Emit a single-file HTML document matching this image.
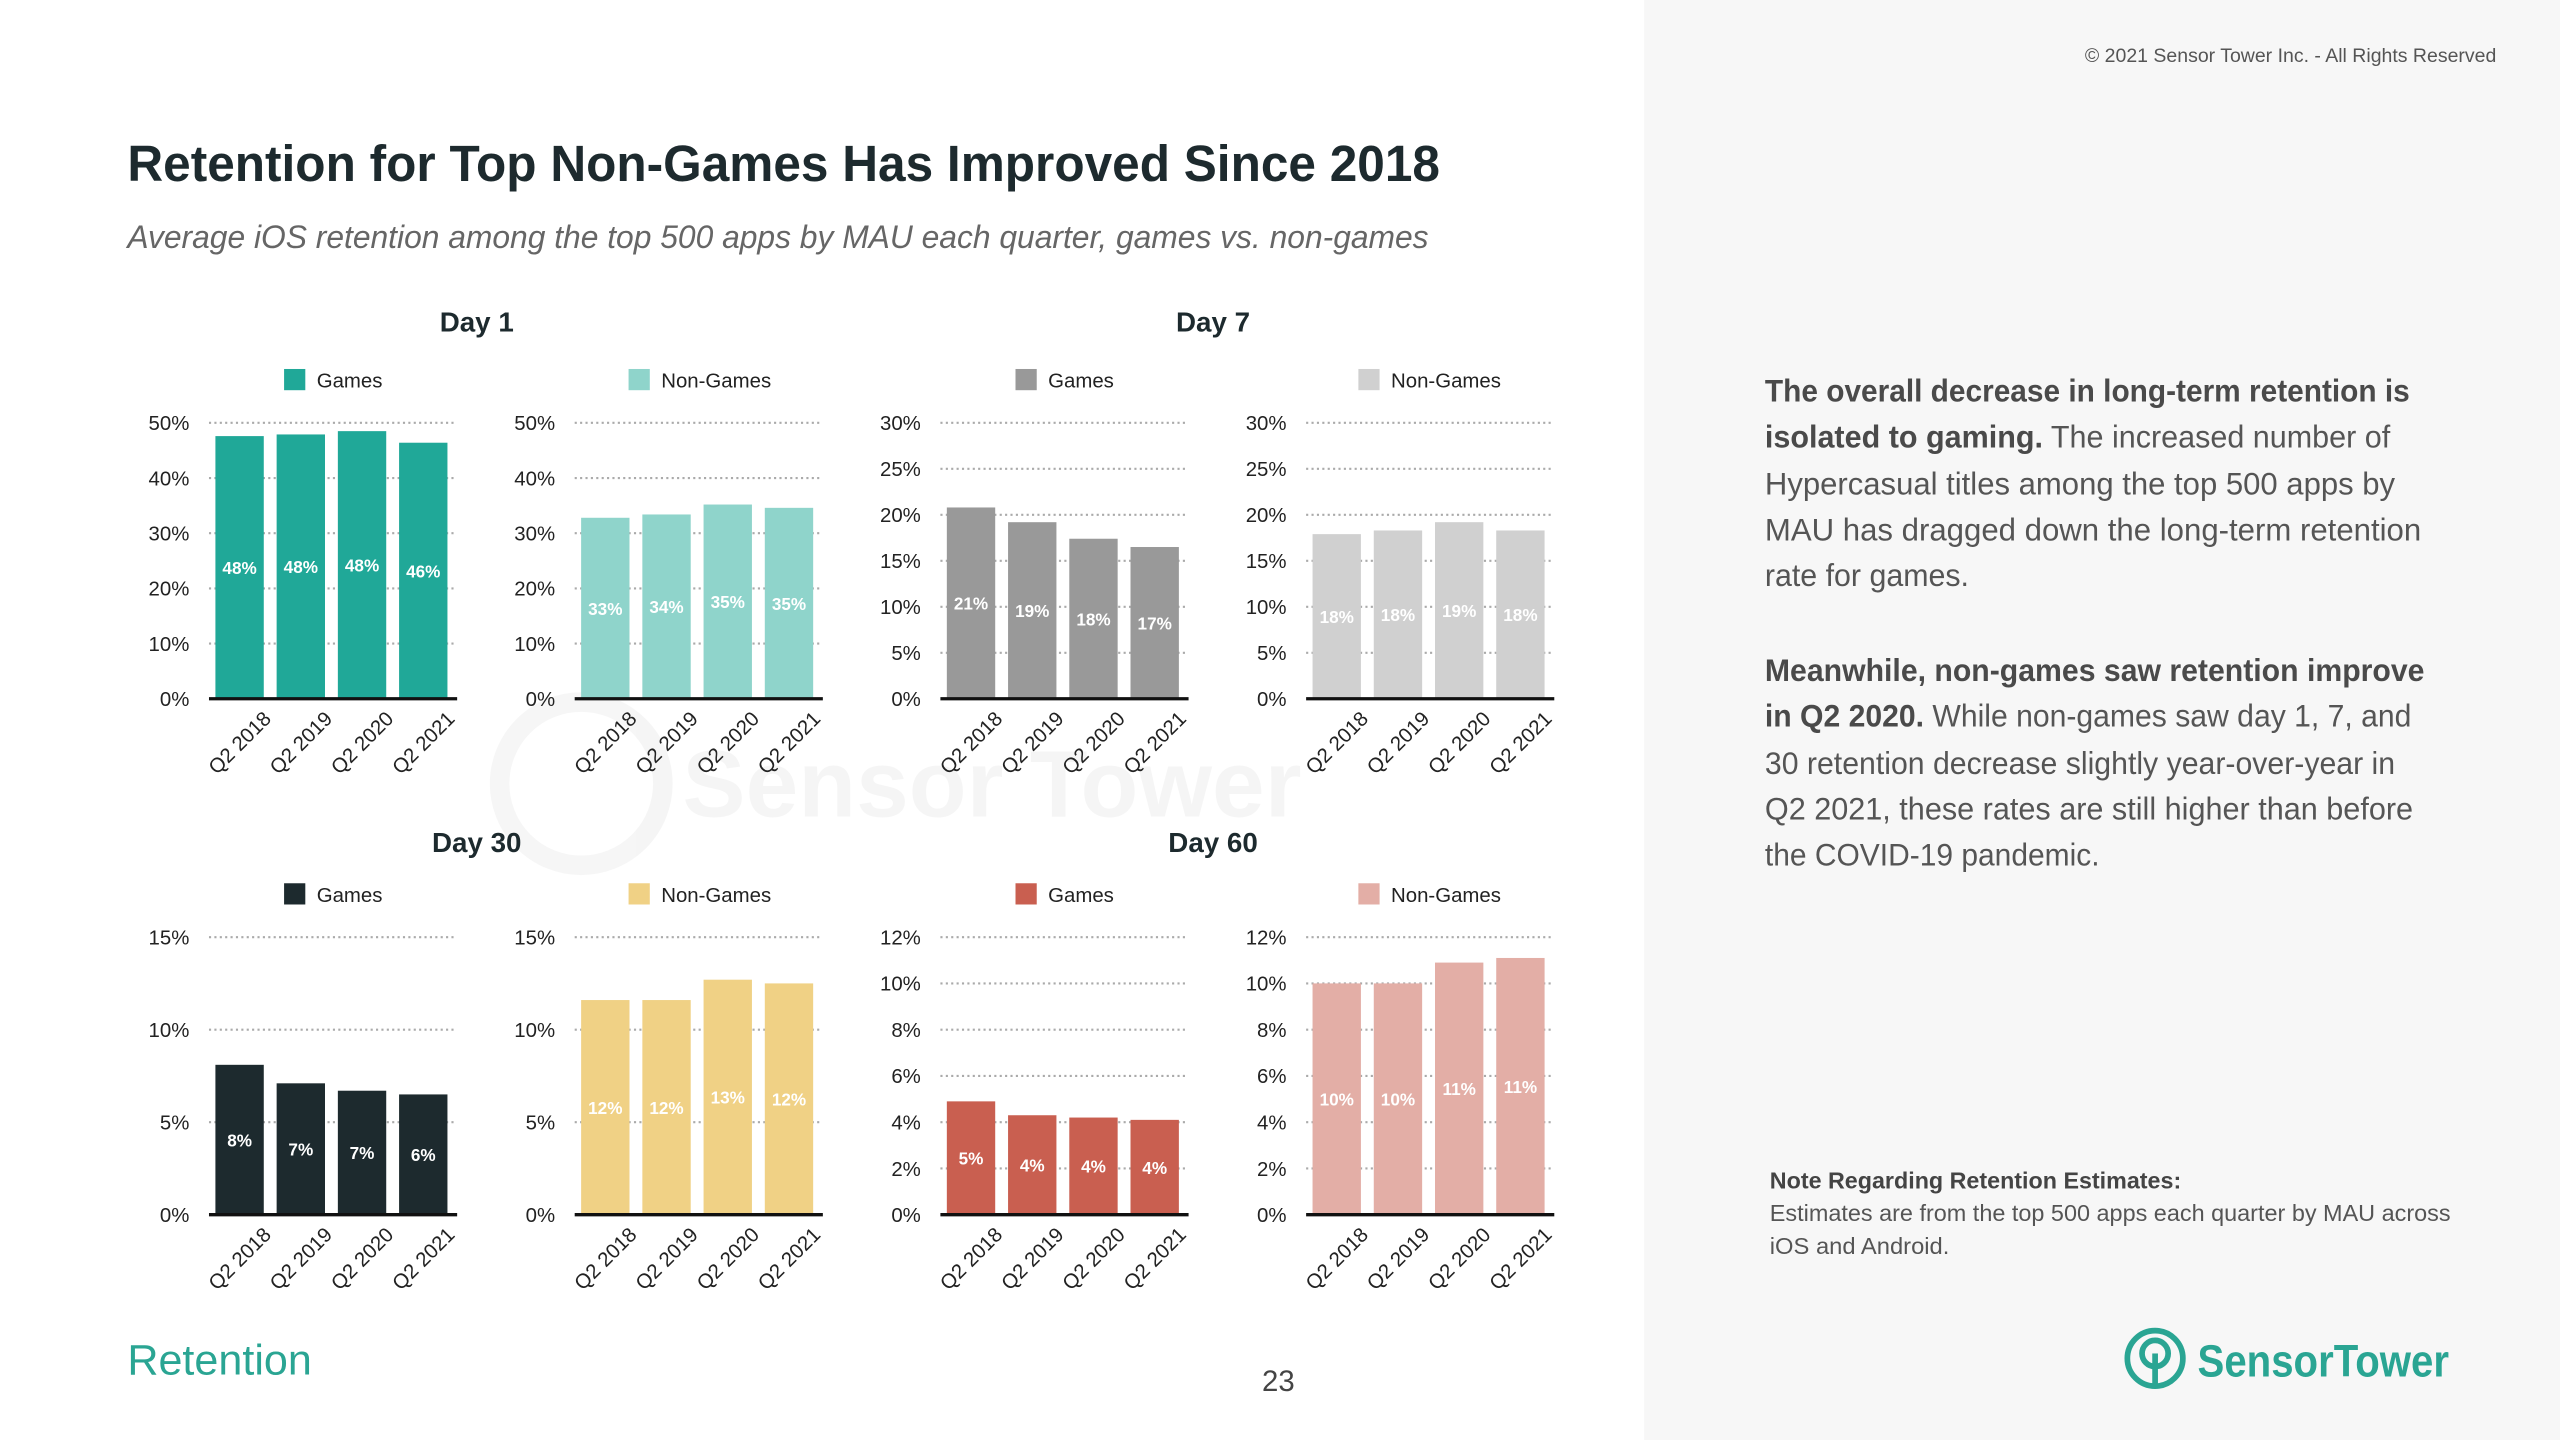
<!DOCTYPE html>
<html><head><meta charset="utf-8">
<style>
html,body{margin:0;padding:0;background:#fff;}
svg{display:block;font-family:"Liberation Sans",sans-serif;}
</style></head>
<body>
<svg id="page" width="2560" height="1440" viewBox="0 0 1568 882" xmlns="http://www.w3.org/2000/svg">
<rect x="0" y="0" width="1568" height="882" fill="#ffffff"/>
<rect x="1007" y="0" width="561" height="882" fill="#f7f7f7"/>
<g opacity="0.035">
 <circle cx="356" cy="480" r="50" fill="none" stroke="#000" stroke-width="12"/>
 <text x="418" y="500" font-size="58" font-weight="bold" fill="#000">Sensor Tower</text>
</g>
<text x="1529" y="38" font-size="12" fill="#555" text-anchor="end" textLength="252" lengthAdjust="spacingAndGlyphs">© 2021 Sensor Tower Inc. - All Rights Reserved</text>
<text x="78" y="111" font-size="31" font-weight="bold" fill="#1d2a2e" textLength="804" lengthAdjust="spacingAndGlyphs">Retention for Top Non-Games Has Improved Since 2018</text>
<text x="78" y="152" font-size="20" font-style="italic" fill="#666" textLength="797" lengthAdjust="spacingAndGlyphs">Average iOS retention among the top 500 apps by MAU each quarter, games vs. non-games</text>

<g font-size="19" fill="#555">
 <text x="1081" y="246" textLength="395" lengthAdjust="spacingAndGlyphs"><tspan font-weight="bold" fill="#4a4a4a">The overall decrease in long-term retention is</tspan></text>
 <text x="1081" y="274" textLength="383" lengthAdjust="spacingAndGlyphs"><tspan font-weight="bold" fill="#4a4a4a">isolated to gaming.</tspan> The increased number of</text>
 <text x="1081" y="303" textLength="386" lengthAdjust="spacingAndGlyphs">Hypercasual titles among the top 500 apps by</text>
 <text x="1081" y="331" textLength="402" lengthAdjust="spacingAndGlyphs">MAU has dragged down the long-term retention</text>
 <text x="1081" y="359" textLength="125" lengthAdjust="spacingAndGlyphs">rate for games.</text>
 <text x="1081" y="417" textLength="404" lengthAdjust="spacingAndGlyphs"><tspan font-weight="bold" fill="#4a4a4a">Meanwhile, non-games saw retention improve</tspan></text>
 <text x="1081" y="445" textLength="396" lengthAdjust="spacingAndGlyphs"><tspan font-weight="bold" fill="#4a4a4a">in Q2 2020.</tspan> While non-games saw day 1, 7, and</text>
 <text x="1081" y="474" textLength="386" lengthAdjust="spacingAndGlyphs">30 retention decrease slightly year-over-year in</text>
 <text x="1081" y="502" textLength="397" lengthAdjust="spacingAndGlyphs">Q2 2021, these rates are still higher than before</text>
 <text x="1081" y="530" textLength="205" lengthAdjust="spacingAndGlyphs">the COVID-19 pandemic.</text>
</g>
<g font-size="14" fill="#555">
 <text x="1084" y="728" font-weight="bold" fill="#444" textLength="252" lengthAdjust="spacingAndGlyphs">Note Regarding Retention Estimates:</text>
 <text x="1084" y="748" textLength="417" lengthAdjust="spacingAndGlyphs">Estimates are from the top 500 apps each quarter by MAU across</text>
 <text x="1084" y="768" textLength="110" lengthAdjust="spacingAndGlyphs">iOS and Android.</text>
</g>
<g>
 <circle cx="1320" cy="832" r="17" fill="none" stroke="#2aa593" stroke-width="3.5"/>
 <circle cx="1320" cy="829" r="8" fill="none" stroke="#2aa593" stroke-width="3.5"/>
 <line x1="1320" y1="829" x2="1320" y2="850" stroke="#2aa593" stroke-width="3.5"/>
 <text x="1346" y="843" font-size="28" font-weight="bold" fill="#2aa593" textLength="154" lengthAdjust="spacingAndGlyphs">SensorTower</text>
</g>
<text x="78" y="842" font-size="26" fill="#2aa593" textLength="113" lengthAdjust="spacingAndGlyphs">Retention</text>
<text x="783" y="852" font-size="18" fill="#444" text-anchor="middle">23</text>

<g font-size="17" font-weight="bold" fill="#1d2a2e" text-anchor="middle">
 <text x="292" y="203">Day 1</text>
 <text x="743" y="203">Day 7</text>
 <text x="292" y="522">Day 30</text>
 <text x="743" y="522">Day 60</text>
</g>
<g id="charts"></g>
</svg>
<script>
const categories = ["Q2 2018","Q2 2019","Q2 2020","Q2 2021"];
const day1Games = [47.6, 47.9, 48.5, 46.4];
const day1GamesLabels = ["48%","48%","48%","46%"];
const day1NonGames = [32.8, 33.4, 35.2, 34.6];
const day1NonGamesLabels = ["33%","34%","35%","35%"];
const day7Games = [20.8, 19.2, 17.4, 16.5];
const day7GamesLabels = ["21%","19%","18%","17%"];
const day7NonGames = [17.9, 18.3, 19.2, 18.3];
const day7NonGamesLabels = ["18%","18%","19%","18%"];
const day30Games = [8.1, 7.1, 6.7, 6.5];
const day30GamesLabels = ["8%","7%","7%","6%"];
const day30NonGames = [11.6, 11.6, 12.7, 12.5];
const day30NonGamesLabels = ["12%","12%","13%","12%"];
const day60Games = [4.9, 4.3, 4.2, 4.1];
const day60GamesLabels = ["5%","4%","4%","4%"];
const day60NonGames = [10.0, 10.0, 10.9, 11.1];
const day60NonGamesLabels = ["10%","10%","11%","11%"];
const ticks50 = [0,10,20,30,40,50];
const ticks30 = [0,5,10,15,20,25,30];
const ticks15 = [0,5,10,15];
const ticks12 = [0,2,4,6,8,10,12];

const NS = "http://www.w3.org/2000/svg";
const root = document.getElementById("charts");
function mk(tag, attrs, parent){
  const e = document.createElementNS(NS, tag);
  for (const k in attrs) e.setAttribute(k, attrs[k]);
  parent.appendChild(e);
  return e;
}
function chart(name, x0, top, bottom, values, labels, ticks, color, legendText, legendX){
  const g = mk("g", {}, root);
  
  
  const w = 150, max = ticks[ticks.length-1];
  const y = v => bottom - (v/max)*(bottom-top);
  const band = w/categories.length, bw = band*0.79;
  const xb = i => x0 + i*band + (band-bw)/2;
  const lg = mk("g", {}, g);
  
  
  mk("rect", {x: legendX, y: top-33, width: 13, height: 13, fill: color}, lg);
  mk("text", {x: legendX+20, y: top-21.5, "font-size": 12.5, fill: "#222"}, lg).textContent = legendText;
  ticks.forEach(t => {
    if (t > 0) {
      const gl = mk("line", {x1: x0, x2: x0+w, y1: y(t), y2: y(t), stroke: "#aaa", "stroke-width": 1.3, "stroke-dasharray": "1.3 2"}, g);
      
      
    }
    const tl = mk("text", {x: x0-12, y: y(t)+4.5, "font-size": 12.5, fill: "#222", "text-anchor": "end"}, g);
    
    
    tl.textContent = t + "%";
  });
  values.forEach((v, i) => {
    const r = mk("rect", {x: xb(i), y: y(v), width: bw, height: bottom - y(v), fill: color}, g);
    
    
    const vl = mk("text", {x: xb(i)+bw/2, y: (y(v)+bottom)/2 + 4, "font-size": 10.5, "font-weight": "bold", fill: "#fff", "text-anchor": "middle"}, g);
    
    
    vl.textContent = labels[i];
    const cx = xb(i)+bw/2 + 20, cy = bottom + 13;
    const xl = mk("text", {x: cx, y: cy, "font-size": 12.5, fill: "#222", "text-anchor": "end", transform: `rotate(-45 ${cx} ${cy})`}, g);
    
    
    xl.textContent = categories[i];
  });
  const ax = mk("line", {x1: x0, x2: x0+w+2, y1: bottom, y2: bottom, stroke: "#111", "stroke-width": 2}, g);
  
  
}
chart("day1-games-chart", 128, 259, 428, day1Games, day1GamesLabels, ticks50, "#20a898", "Games", 174);
chart("day1-nongames-chart", 352, 259, 428, day1NonGames, day1NonGamesLabels, ticks50, "#8fd4cb", "Non-Games", 385);
chart("day7-games-chart", 576, 259, 428, day7Games, day7GamesLabels, ticks30, "#999999", "Games", 622);
chart("day7-nongames-chart", 800, 259, 428, day7NonGames, day7NonGamesLabels, ticks30, "#d0d0d0", "Non-Games", 832);
chart("day30-games-chart", 128, 574, 744, day30Games, day30GamesLabels, ticks15, "#1d2a2e", "Games", 174);
chart("day30-nongames-chart", 352, 574, 744, day30NonGames, day30NonGamesLabels, ticks15, "#f0d185", "Non-Games", 385);
chart("day60-games-chart", 576, 574, 744, day60Games, day60GamesLabels, ticks12, "#c95f50", "Games", 622);
chart("day60-nongames-chart", 800, 574, 744, day60NonGames, day60NonGamesLabels, ticks12, "#e3aea6", "Non-Games", 832);
</script>
</body></html>
